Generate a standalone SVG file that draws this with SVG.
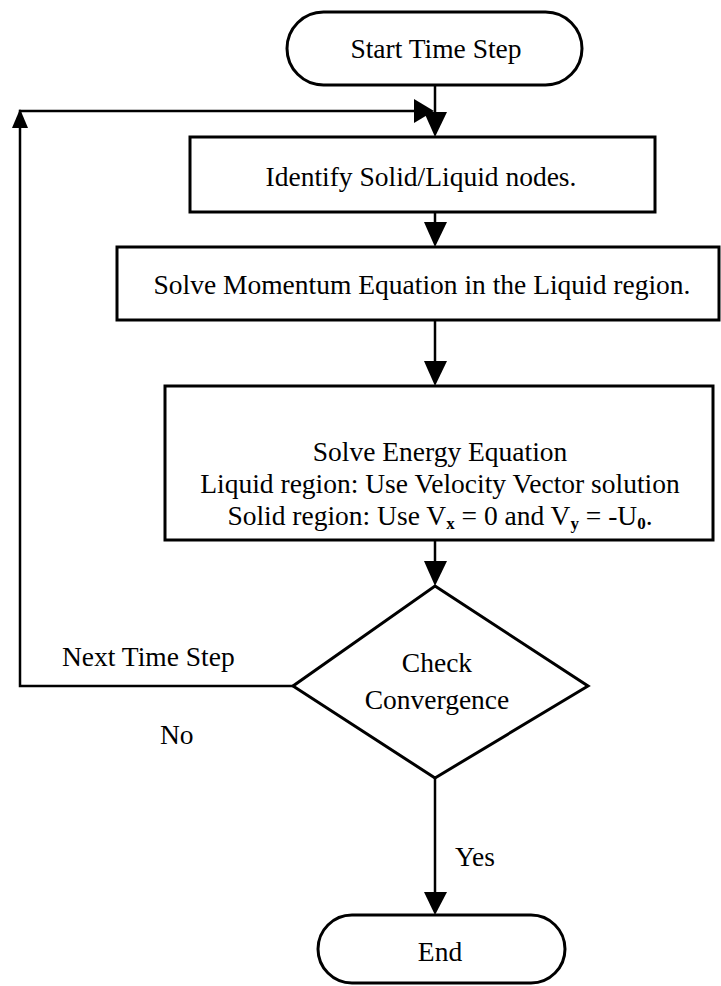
<svg xmlns="http://www.w3.org/2000/svg" width="721" height="986" viewBox="0 0 721 986">
<defs>
<style>
.box{fill:#fff;stroke:#000;stroke-width:3}
.ln{fill:none;stroke:#000;stroke-width:2.5}
.t{font-family:"Liberation Serif","Times New Roman",serif;font-size:27.5px;fill:#000;text-anchor:middle}
.l{font-family:"Liberation Serif","Times New Roman",serif;font-size:27.5px;fill:#000}
</style>
</defs>
<rect width="721" height="986" fill="#fff"/>
<g id="connectors">
<line class="ln" x1="435" y1="85" x2="435" y2="112"/>
<path d="M424,112 L447,112 L435,137 Z" fill="#000"/>
<line class="ln" x1="435" y1="212" x2="435" y2="222"/>
<path d="M424,222 L447,222 L435,247 Z" fill="#000"/>
<line class="ln" x1="435" y1="320" x2="435" y2="361"/>
<path d="M424,361 L447,361 L435,386 Z" fill="#000"/>
<line class="ln" x1="435" y1="540" x2="435" y2="561"/>
<path d="M424,561 L447,561 L435,586 Z" fill="#000"/>
<polyline class="ln" points="293,686 20,686 20,111 416,111"/>
<path d="M414,99 L434,111 L414,123 Z" fill="#000"/>
<path d="M20,109 L28,128 L12,128 Z" fill="#000"/>
<line class="ln" x1="435" y1="778" x2="435" y2="892"/>
<path d="M424,892 L447,892 L435,915 Z" fill="#000"/>
<text class="l" x="62" y="666">Next Time Step</text>
<text class="l" x="160" y="744">No</text>
<text class="l" x="455" y="866">Yes</text>
</g>
<g id="start">
<rect class="box" x="287" y="12" width="295" height="73" rx="36.5"/>
<text class="t" x="436" y="58">Start Time Step</text>
</g>
<g id="identify">
<rect class="box" x="190" y="137" width="465" height="75"/>
<text class="t" x="421" y="186">Identify Solid/Liquid nodes.</text>
</g>
<g id="momentum">
<rect class="box" x="117" y="247" width="602" height="73"/>
<text class="t" x="422" y="294">Solve Momentum Equation in the Liquid region.</text>
</g>
<g id="energy">
<rect class="box" x="165" y="386" width="548" height="154"/>
<text class="t" x="440" y="461">Solve Energy Equation</text>
<text class="t" x="440" y="493">Liquid region: Use Velocity Vector solution</text>
<text class="t" x="440" y="525">Solid region: Use V<tspan font-size="17" font-weight="bold" dy="4">x</tspan><tspan dy="-4"> = 0 and V</tspan><tspan font-size="17" font-weight="bold" dy="4">y</tspan><tspan dy="-4"> = -U</tspan><tspan font-size="17" font-weight="bold" dy="4">0</tspan><tspan dy="-4">.</tspan></text>
</g>
<g id="check">
<polygon class="box" points="435,586 588,686 435,778 293,686"/>
<text class="t" x="437" y="672">Check</text>
<text class="t" x="437" y="709">Convergence</text>
</g>
<g id="end">
<rect class="box" x="318" y="915" width="247" height="68" rx="34"/>
<text class="t" x="440" y="961">End</text>
</g>
</svg>
